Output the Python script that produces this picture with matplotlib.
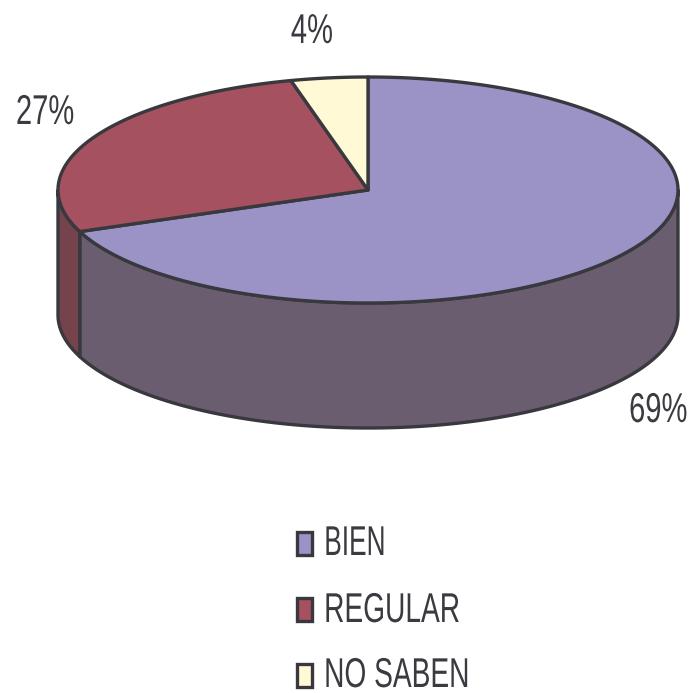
import numpy as np
import matplotlib.pyplot as plt
from matplotlib.patches import Polygon, Rectangle
from matplotlib.patheffects import AbstractPathEffect
from matplotlib.transforms import Affine2D

# Datos del grafico
categorias = ["BIEN", "REGULAR", "NO SABEN"]
valores = [69, 27, 4]
etiquetas = ["69%", "27%", "4%"]
colores = ["#9B93C6", "#A5515F", "#FFFAD5"]
colores_lado = ["#6B5D70", "#74434B", "#BDB99E"]

# Geometria de la torta en pixeles
CX, CY = 368, 190
RX, RY = 310, 113
ALTO = 125
BORDE = "#38383E"
TEXTO = "#3A3A40"
FUENTE = "Liberation Sans"


class Angosto(AbstractPathEffect):
    # Comprime el texto en x, el original usa letra angosta
    def __init__(self, escala, pivote, baja=0):
        super().__init__()
        self.escala = escala
        self.pivote = pivote
        self.baja = baja

    def draw_path(self, renderer, gc, tpath, affine, rgbFace=None):
        ext = tpath.get_extents()
        px = ext.x0 + self.pivote * ext.width
        t = Affine2D().translate(-px, 0).scale(self.escala, 1).translate(px, 0)
        renderer.draw_path(gc, tpath, t + affine + Affine2D().translate(0, -self.baja), rgbFace)


def punto(t):
    # t en grados, sentido horario desde arriba
    r = np.radians(t)
    return CX + RX * np.sin(r), CY - RY * np.cos(r)


fig = plt.figure(figsize=(6.93, 6.93), dpi=100)
ax = fig.add_axes([0, 0, 1, 1])
ax.set_xlim(0, 693)
ax.set_ylim(693, 0)
ax.axis("off")

angulos = np.cumsum([0] + valores) * 360 / sum(valores)

# Lados visibles (de 90 a 270 grados)
for i in range(len(valores)):
    a = max(angulos[i], 90)
    b = min(angulos[i + 1], 270)
    if a >= b:
        continue
    t = np.linspace(a, b, 120)
    x, y = punto(t)
    pts = np.r_[np.c_[x, y], np.c_[x[::-1], y[::-1] + ALTO]]
    ax.add_patch(Polygon(pts, closed=True, fc=colores_lado[i], ec=BORDE, lw=2.4, joinstyle="round"))

# Tapa
for i in range(len(valores)):
    t = np.linspace(angulos[i], angulos[i + 1], 200)
    x, y = punto(t)
    pts = np.r_[[[CX, CY]], np.c_[x, y]]
    ax.add_patch(Polygon(pts, closed=True, fc=colores[i], ec=BORDE, lw=2.4, joinstyle="round"))

# Etiquetas de porcentaje
pos_etiquetas = [(688, 422, "right", 1.0), (45, 124, "center", 0.5), (312, 43, "center", 0.5)]
for txt, (px, py, ha, piv) in zip(etiquetas, pos_etiquetas):
    ax.text(px, py, txt, fontsize=30, family=FUENTE, color=TEXTO, ha=ha, va="baseline",
            path_effects=[Angosto(0.70, piv)])

# Leyenda
cuadro_y = [532, 598, 664]
texto_y = [555, 622, 683]
texto_baja = [0, 0, 4]  # el ultimo queda pegado al borde inferior
texto_escala = [0.63, 0.675, 0.675]
for i, cat in enumerate(categorias):
    ax.add_patch(Rectangle((297, cuadro_y[i]), 15, 23, fc=colores[i], ec=BORDE, lw=2.4))
    ax.text(323, texto_y[i], cat, fontsize=30, family=FUENTE, color=TEXTO, ha="left", va="baseline",
            path_effects=[Angosto(texto_escala[i], 0.0, texto_baja[i])])

fig.savefig("out.png", dpi=100)
